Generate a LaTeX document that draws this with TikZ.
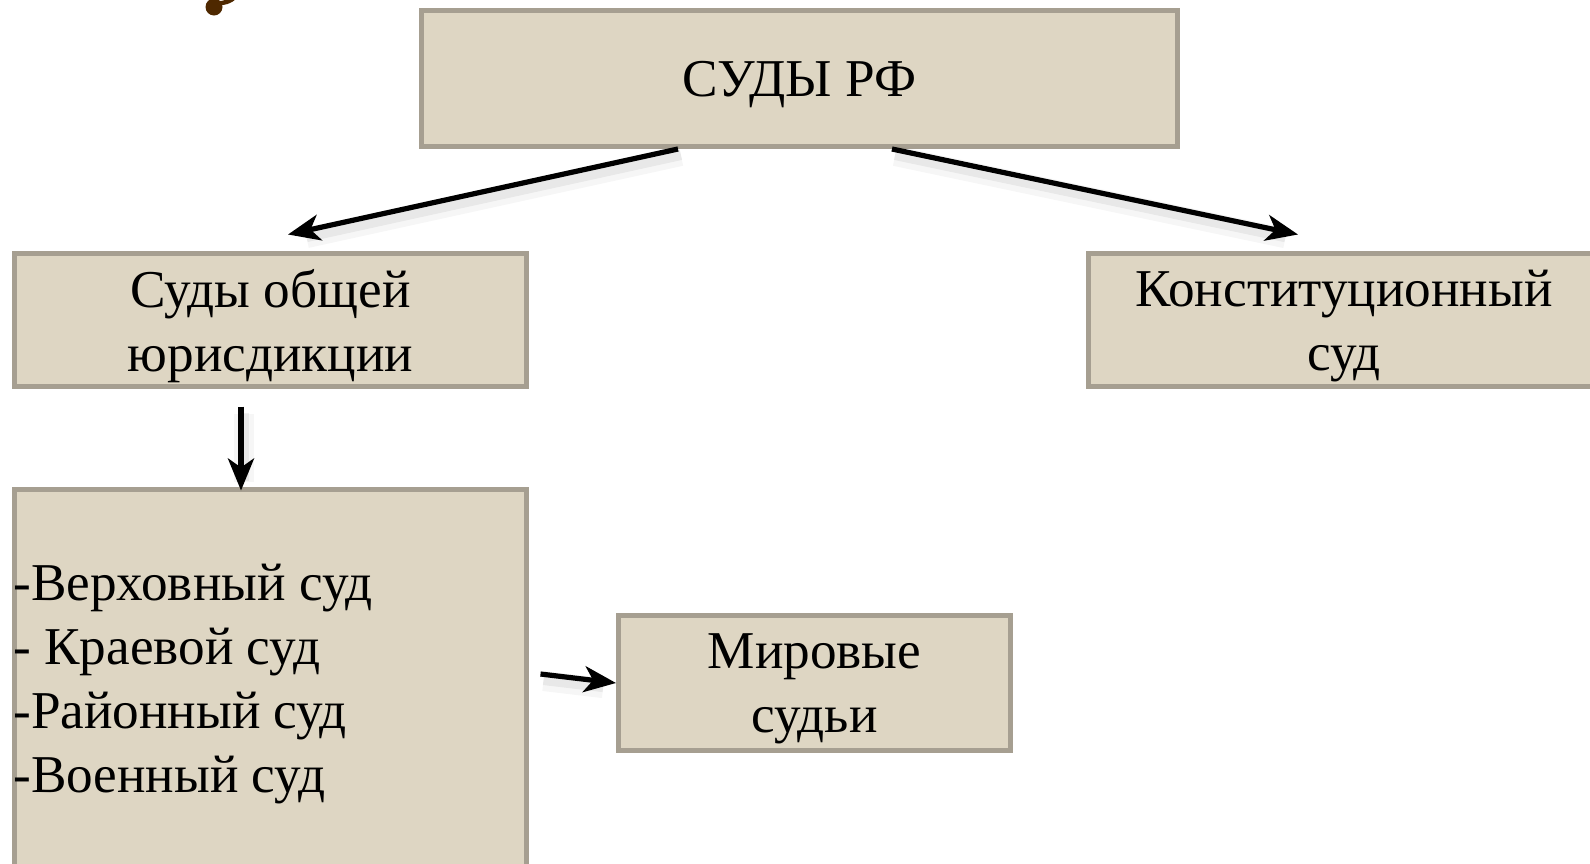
\documentclass[tikz,border=0pt]{standalone}
\usepackage{fontspec}
\setmainfont{Liberation Serif}
\usetikzlibrary{arrows.meta,calc}
\definecolor{boxfill}{HTML}{DED6C3}
\definecolor{boxline}{HTML}{A69F91}
\definecolor{glyphbrown}{HTML}{4E2800}
\begin{document}
\begin{tikzpicture}[x=0.5pt,y=-0.5pt,
  box/.style={draw=boxline,fill=boxfill,line width=2.5pt,rectangle,inner sep=0pt,
    font=\fontsize{26.6}{32}\selectfont,align=center,text depth=-1.5pt},
  listtext/.style={font=\fontsize{26.6}{32}\selectfont,align=left,inner sep=0pt},
  arr/.style={line width=2.6pt,-{Stealth[length=16pt,width=13pt,inset=4.5pt]}},
  shadA/.style={line width=10pt,black,opacity=0.035,shorten >=8pt,
    transform canvas={shift={(3,7)}}},
  shadB/.style={line width=5pt,black,opacity=0.06,shorten >=8pt,
    transform canvas={shift={(3,6)}}}]
\useasboundingbox (0,0) rectangle (1590,863);
\clip (0,0) rectangle (1590,863);

% fragment of a brown glyph at the top edge
\fill[glyphbrown] (214,7) circle (8.5);
\draw[glyphbrown,line width=2.2pt] (216,3) .. controls (224,4) and (231,1) .. (235,-3);

\node[box,minimum width=378pt,minimum height=68pt] (rf) at (799.5,78.5) {СУДЫ РФ};
\node[box,minimum width=256pt,minimum height=66.5pt] (ob) at (270.5,320) {Суды общей\\юрисдикции};
\node[box,minimum width=255.5pt,minimum height=66.5pt] (ks) at (1344,320) {Конституционный\\суд};
\node[box,minimum width=256pt,minimum height=215.25pt] (list) at (270.5,704.75) {};
\node[listtext,anchor=west] (items) at (13,684) {-Верховный суд\\- Краевой суд\\-Районный суд\\-Военный суд};
\node[box,minimum width=196pt,minimum height=67.5pt] (mir) at (814.5,683) {Мировые\\судьи};

% soft shadows
\foreach \s in {shadA,shadB}{
  \draw[\s] ($(rf.south)+(-121.5,0)$) -- ($(ob.north)+(17.5,-16.5)$);
  \draw[\s] ($(rf.south)+(92.5,0)$) -- ($(ks.north)+(-46,-16.5)$);
  \draw[\s] ($(ob.south)+(-29.5,17.5)$) -- ($(list.north)+(-29.5,3.5)$);
  \draw[\s] ($(mir.west)+(-75.5,-9)$) -- (mir.west);
}

% arrows
\draw[arr] ($(rf.south)+(-121.5,0)$) -- ($(ob.north)+(17.5,-16.5)$);
\draw[arr] ($(rf.south)+(92.5,0)$) -- ($(ks.north)+(-46,-16.5)$);
\draw[arr] ($(ob.south)+(-29.5,17.5)$) -- ($(list.north)+(-29.5,3.5)$);
\draw[arr] ($(mir.west)+(-75.5,-9)$) -- (mir.west);
\end{tikzpicture}
\end{document}
